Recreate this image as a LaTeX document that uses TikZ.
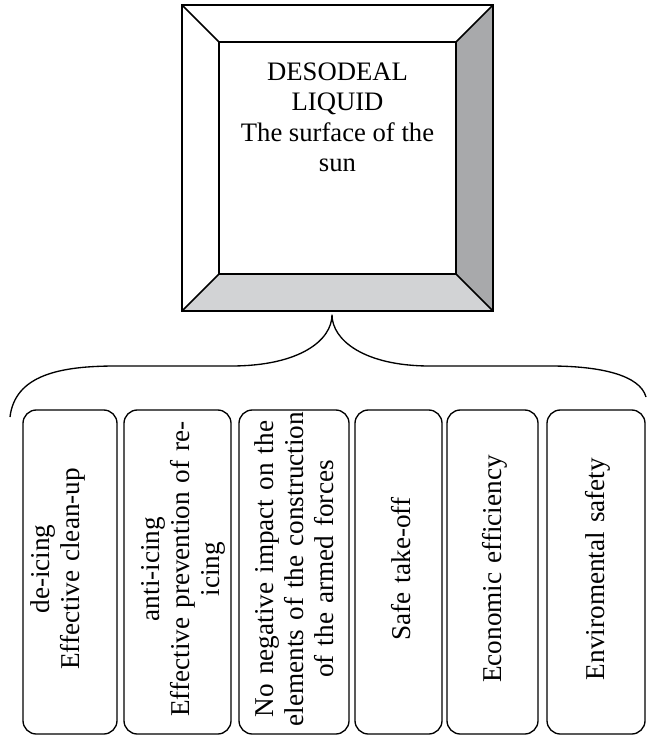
\documentclass[tikz,border=0pt]{standalone}
\usepackage{fontspec}
\setmainfont{Liberation Serif}
\usetikzlibrary{positioning}

\definecolor{bevelright}{RGB}{168,169,171}
\definecolor{bevelbottom}{RGB}{210,211,213}

\tikzset{
  itembox/.style={draw, line width=1pt, rounded corners=10pt, inner sep=0pt},
  itemtext/.style={rotate=90, align=center, text width=260pt, inner sep=0pt, font=\fontsize{20.4}{22.5}\selectfont},
  toptext/.style={align=center, inner sep=0pt, font=\fontsize{20}{22.7}\selectfont}
}

\begin{document}
\begin{tikzpicture}[x=0.75pt, y=-0.75pt, line width=1.2pt]
  \useasboundingbox (0,0) rectangle (647,737);

  % liquid box
  \node[minimum width=176.25pt, minimum height=172.5pt, inner sep=0pt] (liquid) at (337.5,158) {};
  \coordinate (onw) at ([shift={(-37,-37)}]liquid.north west);
  \coordinate (one) at ([shift={(37,-37)}]liquid.north east);
  \coordinate (ose) at ([shift={(37,37)}]liquid.south east);
  \coordinate (osw) at ([shift={(-37,37)}]liquid.south west);
  \fill[bevelright] (liquid.north east) -- (one) -- (ose) -- (liquid.south east) -- cycle;
  \fill[bevelbottom] (liquid.south west) -- (liquid.south east) -- (ose) -- (osw) -- cycle;
  \draw (onw) rectangle (ose);
  \draw (liquid.north west) rectangle (liquid.south east);
  \draw (onw) -- (liquid.north west);
  \draw (one) -- (liquid.north east);
  \draw (ose) -- (liquid.south east);
  \draw (osw) -- (liquid.south west);
  \node[toptext, below=15pt of liquid.north] (title) {DESODEAL\\LIQUID\\The surface of the\\sun};

  % brace
  \coordinate (tip) at ([shift={(-5.5,41)}]liquid.south);
  \coordinate (bl) at (10,417);
  \coordinate (br) at (646,397);
  \draw[line width=1pt] (bl) .. controls (15,375) and (60,366) .. (116,366) -- (231,366)
    .. controls (300,366) and (332,340) .. (tip)
    .. controls (332,340) and (364,366) .. (430,366) -- (550,366)
    .. controls (600,366) and (640,375) .. (br);

  % items
  \foreach \n/\cx/\w/\dx/\txt in {
    1/70/70.5/-12.5/{de-icing\\Effective clean-up},
    2/177.5/80.25/5.5/{anti-icing\\Effective prevention of re-\\icing},
    3/294/82.5/0/{No negative impact on the\\elements of the construction\\of the armed forces},
    4/398.5/65.25/2.5/{Safe take-off},
    5/492.5/68.25/2.5/{Economic efficiency},
    6/596/73.5/2/{Enviromental safety}} {
    \node[itembox, minimum width=243pt, minimum height=\w pt, rotate=90] (item\n) at (\cx,572) {};
    \node[itemtext] (label\n) at ([shift={(\dx,-3)}]item\n.center) {\txt};
  }
\end{tikzpicture}
\end{document}
